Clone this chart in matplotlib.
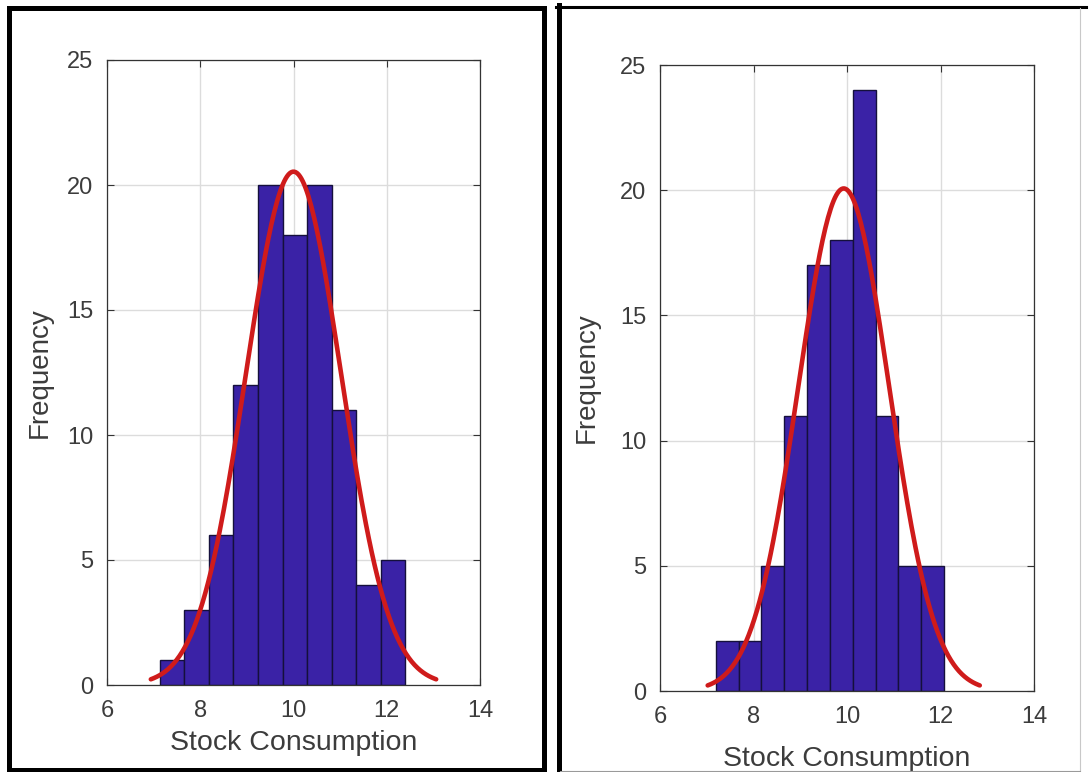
"""Two histfit-style panels: stock consumption histogram with normal fit."""

import matplotlib

matplotlib.use("Agg")
import matplotlib.pyplot as plt
import numpy as np
from matplotlib.patches import Rectangle
from matplotlib.lines import Line2D

plt.rcParams["font.family"] = ["Liberation Sans", "DejaVu Sans"]

# --- data ------------------------------------------------------------------
left_edges = [7.14, 7.66, 8.19, 8.71, 9.24, 9.77, 10.29, 10.82, 11.34, 11.87, 12.39]
left_counts = [1, 3, 6, 12, 20, 18, 20, 11, 4, 5]
left_mu, left_sigma = 10.0, 1.02

right_edges = [7.19, 7.68, 8.17, 8.65, 9.14, 9.63, 10.12, 10.61, 11.09, 11.58, 12.07]
right_counts = [2, 2, 5, 11, 17, 18, 24, 11, 5, 5]
right_mu, right_sigma = 9.93, 0.97

x_ticks = [6, 8, 10, 12, 14]
y_ticks = [0, 5, 10, 15, 20, 25]
x_label = "Stock Consumption"
y_label = "Frequency"

W, H = 1089, 772
BAR = "#3a22a6"
BAR_EDGE = "#15103c"
RED = "#cf1b1b"
TXT = "#3c3c3c"


def px_rect(left, top, right, bottom):
    """Pixel box (top-down) -> figure fraction [x, y, w, h]."""
    return [left / W, 1 - bottom / H, (right - left) / W, (bottom - top) / H]


def histfit(ax, edges, counts, mu, sigma, xlab_y, ylab_x):
    edges = np.asarray(edges)
    counts = np.asarray(counts)
    widths = np.diff(edges)
    ax.bar(edges[:-1], counts, width=widths, align="edge", color=BAR,
           edgecolor=BAR_EDGE, linewidth=1.0, zorder=2)

    # normal fit, scaled to counts like MATLAB's histfit (mu +/- 3 sigma)
    xs = np.linspace(mu - 3 * sigma, mu + 3 * sigma, 200)
    scale = counts.sum() * widths.mean()
    ys = scale * np.exp(-0.5 * ((xs - mu) / sigma) ** 2) / (sigma * np.sqrt(2 * np.pi))
    ax.plot(xs, ys, color=RED, lw=3.3, zorder=3, solid_capstyle="round")

    ax.set_xlim(6, 14)
    ax.set_ylim(0, 25)
    ax.set_xticks(x_ticks)
    ax.set_yticks(y_ticks)
    ax.grid(True, color="#dcdcdc", lw=1.0, zorder=0)
    ax.set_axisbelow(True)
    ax.tick_params(direction="in", length=5, width=0.8, color="#333333",
                   top=True, right=True, labelsize=17, labelcolor=TXT)
    ax.tick_params(axis="x", pad=11)
    ax.tick_params(axis="y", pad=10)
    for s in ax.spines.values():
        s.set_color("#333333")
        s.set_linewidth(0.9)
    ax.set_xlabel(x_label, fontsize=20.5, color=TXT)
    ax.set_ylabel(y_label, fontsize=20, color=TXT)
    ax.xaxis.set_label_coords(0.5, xlab_y)
    ax.yaxis.set_label_coords(ylab_x, 0.5)


fig = plt.figure(figsize=(W / 100, H / 100), dpi=100)

ax_l = fig.add_axes(px_rect(107, 60, 480, 685))
histfit(ax_l, left_edges, left_counts, left_mu, left_sigma, -0.072, -0.145)

ax_r = fig.add_axes(px_rect(660, 65, 1034, 691))
histfit(ax_r, right_edges, right_counts, right_mu, right_sigma, -0.088, -0.16)

# black frames around the two screenshots
fig.patches.append(Rectangle((8.5 / W, 1 - 769.5 / H), 535 / W, 762 / H,
                             transform=fig.transFigure, fill=False,
                             edgecolor="black", lw=3.6))
fig.lines.append(Line2D([558.5 / W, 558.5 / W], [0, 1 - 5 / H],
                        transform=fig.transFigure, color="black", lw=3.6))
fig.lines.append(Line2D([556 / W, 1086 / W], [1 - 6.5 / H, 1 - 6.5 / H],
                        transform=fig.transFigure, color="black", lw=2.2))
fig.lines.append(Line2D([1080 / W, 1080 / W], [1 - 770 / H, 1 - 8 / H],
                        transform=fig.transFigure, color="#c8c8c8", lw=0.8))
fig.lines.append(Line2D([560 / W, 1080 / W], [1 - 770.5 / H, 1 - 770.5 / H],
                        transform=fig.transFigure, color="#9a9a9a", lw=0.8))

fig.savefig("out.png", dpi=100)
